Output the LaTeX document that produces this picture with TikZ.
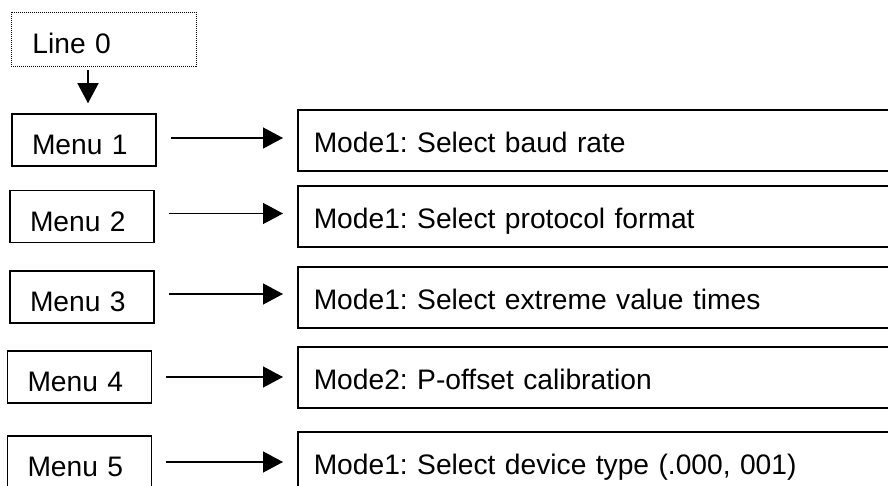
\documentclass[tikz,border=0pt]{standalone}
\usepackage{fontspec}
\setmainfont{Liberation Sans}
\usetikzlibrary{positioning,arrows.meta}
\frenchspacing

\begin{document}
\begin{tikzpicture}[x=1pt, y=1pt, >={Triangle[length=20pt,width=21pt]},
  font=\fontsize{28.2}{34}\selectfont,
  menubox/.style={draw, line width=1.5pt, minimum width=144pt, minimum height=52pt, inner ysep=0pt, inner xsep=20pt, text width=104pt, align=left, text height=29.4pt, text depth=0pt},
  modebox/.style={draw, line width=1.5pt, anchor=west, minimum height=61pt, inner ysep=0pt, inner xsep=16pt, text width=580pt, align=left, text height=23.4pt, text depth=0pt},
  link/.style={->, line width=1.3pt}]
  \useasboundingbox (0,0) rectangle (888,486);
  \clip (0,0) rectangle (888,486);

  % Nodo inicial (punteado)
  \node[draw, line width=0.9pt, dash pattern=on 1pt off 1pt, anchor=west, text width=143pt, inner xsep=21pt, inner ysep=0pt, minimum height=54pt, text height=28.4pt, text depth=0pt, align=left] (line0) at (11,447) {Line 0};

  % Menus
  \node[menubox] (menu1) at (84,346) {Menu 1};
  \node[menubox] (menu2) at (82,269.5) {Menu 2};
  \node[menubox] (menu3) at (82,189) {Menu 3};
  \node[menubox] (menu4) at (79.5,109) {Menu 4};
  \node[menubox] (menu5) at (79.5,24) {Menu 5};

  % Modos
  \node[modebox] (mode1) at (297,345.5) {Mode1: Select baud rate};
  \node[modebox] (mode2) at (297,269.5) {Mode1: Select protocol format};
  \node[modebox] (mode3) at (297,188.5) {Mode1: Select extreme value times};
  \node[modebox] (mode4) at (297,108.5) {Mode2: P-offset calibration};
  \node[modebox] (mode5) at (297,23.5) {Mode1: Select device type (.000, 001)};

  % Flechas
  \draw[link, shorten <=4pt, shorten >=10pt] ([xshift=4pt]menu1.north |- line0.south) -- ([xshift=4pt]menu1.north);
  \draw[link, shorten <=14pt, shorten >=14pt] ([yshift=2pt]menu1.east) -- ([yshift=2pt]menu1.east -| mode1.west);
  \draw[link, shorten <=14pt, shorten >=14pt] ([yshift=3pt]menu2.east) -- ([yshift=3pt]menu2.east -| mode2.west);
  \draw[link, shorten <=14pt, shorten >=14pt] ([yshift=3pt]menu3.east) -- ([yshift=3pt]menu3.east -| mode3.west);
  \draw[link, shorten <=14pt, shorten >=14pt] (menu4.east) -- (menu4.east -| mode4.west);
  \draw[link, shorten <=14pt, shorten >=14pt] (menu5.east) -- (menu5.east -| mode5.west);
\end{tikzpicture}
\end{document}
